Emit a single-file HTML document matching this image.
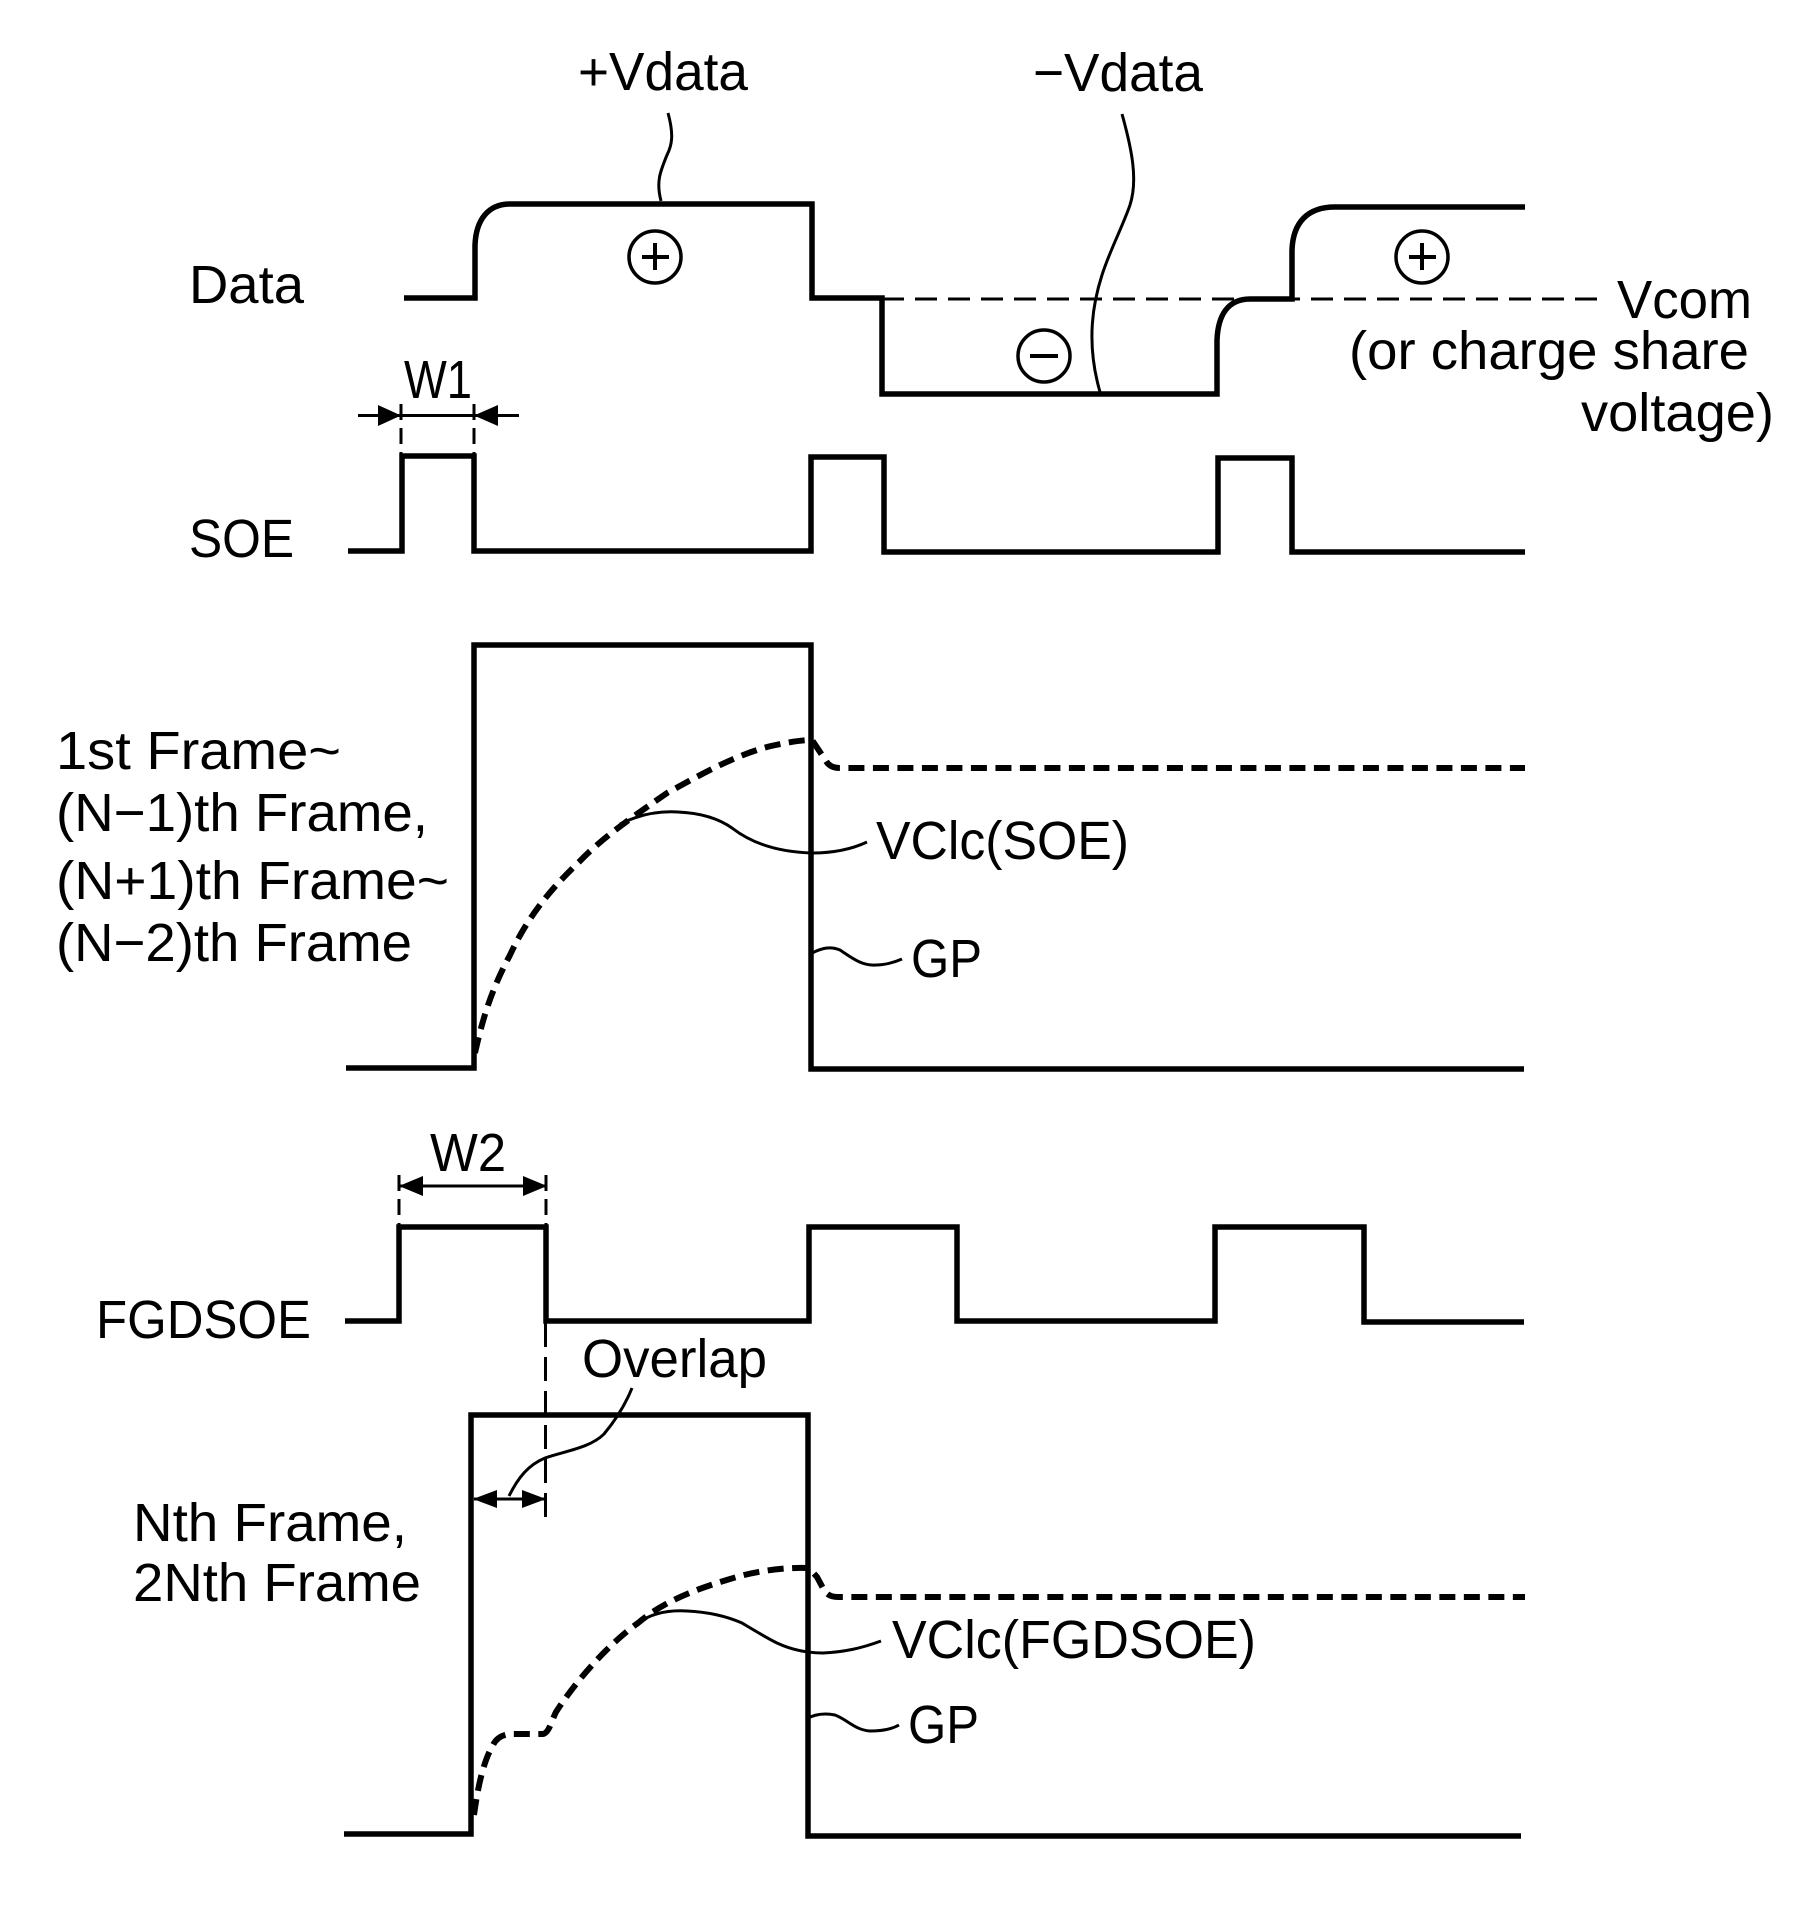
<!DOCTYPE html>
<html>
<head>
<meta charset="utf-8">
<style>
html,body{margin:0;padding:0;background:#fff;}
svg{display:block;}
text{font-family:"Liberation Sans",sans-serif;font-size:54px;fill:#000;}
.w{fill:none;stroke:#000;stroke-width:5.5;stroke-linejoin:miter;}
.l{fill:none;stroke:#000;stroke-width:3;}
.d{fill:none;stroke:#000;stroke-width:6;stroke-dasharray:16 8.500;}
.t{fill:none;stroke:#000;stroke-width:3;stroke-dasharray:22 11;}
.c{fill:none;stroke:#000;stroke-width:3.5;}
</style>
</head>
<body>
<svg width="1818" height="1922" viewBox="0 0 1818 1922" xmlns="http://www.w3.org/2000/svg">
<rect width="1818" height="1922" fill="#fff"/>

<!-- Data -->
<path class="w" d="M404 298 H475 V245 C476 220 488 204 510 204 H812 V298 H882 V394 H1217 V340 C1218 315 1228 299 1250 299 H1292 V250 C1293 222 1308 207 1335 207 H1525"/>
<path class="t" d="M882 299 H1599"/>
<path class="l" d="M668 113 C674 135 672 145 667 155 C660 172 656 182 661 201"/>
<path class="l" d="M1122 114 C1132 150 1138 180 1130 205 C1122 228 1110 250 1102 275 C1094 300 1085 340 1100 392"/>

<ellipse class="c" cx="655" cy="257" rx="26" ry="26"/>
<path class="w" style="stroke-width:4" d="M642 257 H669 M655 243 V270"/>
<ellipse class="c" cx="1044" cy="356" rx="26" ry="26"/>
<path class="w" style="stroke-width:4" d="M1030 356 H1058"/>
<ellipse class="c" cx="1422" cy="257" rx="26" ry="26"/>
<path class="w" style="stroke-width:4" d="M1409 257 H1436 M1422 243 V270"/>

<!-- SOE -->
<path class="w" d="M348 551 H402 V456 H474 V551 H811 V457 H884 V552 H1218 V458 H1292 V552 H1525"/>
<path class="l" d="M358 415.500 H519"/>
<polygon points="401,415.500 378,405 378,426"/>
<polygon points="474,415.500 498,405 498,426"/>
<path class="l" style="stroke-dasharray:16 8" d="M401 404 V455 M474 404 V455"/>

<!-- Block 1 -->
<path class="w" d="M346 1068 H474 V645 H811 V1069 H1524"/>
<path class="d" d="M475 1053 C484 1012 494 985 510 955 C530 912 555 885 580 861 C605 835 640 812 667 793 C700 775 735 755 771 746 C785 743 800 740 812 740 L826 761 Q830 768 840 768 H1525"/>
<path class="l" d="M620 824 C640 814 660 811 678 812 C700 813 718 818 732 828 C750 842 775 852 812 853 C830 853 850 850 867 842"/>
<path class="l" d="M812 953 C822 948 830 946 840 950 C852 958 862 966 876 965 C886 965 895 962 902 959"/>

<!-- FGDSOE -->
<path class="w" d="M345 1321 H399 V1227 H546 V1321 H809 V1227 H957 V1321 H1215 V1227 H1364 V1322 H1524"/>
<path class="l" d="M400 1186 H546"/>
<polygon points="399,1186 423,1176 423,1196"/>
<polygon points="547,1186 523,1176 523,1196"/>
<path class="l" style="stroke-dasharray:16 8" d="M399 1175 V1226 M546 1175 V1226"/>
<path class="l" style="stroke-dasharray:24 10" d="M545.500 1323 V1517"/>

<!-- Block 2 -->
<path class="w" d="M344 1834 H471 V1415 H808 V1836 H1521"/>
<path class="d" d="M474 1815 C478 1785 484 1760 493 1745 C497 1737 503 1735 510 1734 H543 C549 1733 551 1722 556 1712 C578 1678 610 1643 638 1623 C665 1600 700 1588 730 1579 C755 1571 785 1567 809 1568 L817 1577 L824 1590 Q828 1597 838 1597 H1525"/>
<path class="l" d="M632 1388 C624 1408 614 1422 604 1434 C590 1448 565 1451 545 1458 C528 1465 518 1478 509 1496"/>
<path class="l" d="M474 1499 H545"/>
<polygon points="473,1499 497,1490 497,1508"/>
<polygon points="546,1499 522,1490 522,1508"/>
<path class="l" d="M638 1623 C652 1613 670 1610 687 1611 C708 1612 726 1616 742 1623 C752 1629 765 1637 777 1643 C792 1650 808 1653 823 1653 C845 1652 862 1648 881 1641"/>
<path class="l" d="M806 1719 C815 1714 825 1713 835 1715 C848 1720 855 1730 870 1731 C882 1731 892 1729 899 1725"/>

<!-- Labels -->
<text x="578" y="90" textLength="170" lengthAdjust="spacingAndGlyphs">+Vdata</text>
<text x="1033" y="91" textLength="170" lengthAdjust="spacingAndGlyphs">−Vdata</text>
<text x="189" y="303" textLength="115" lengthAdjust="spacingAndGlyphs">Data</text>
<text x="1617" y="318" textLength="135" lengthAdjust="spacingAndGlyphs">Vcom</text>
<text x="1349" y="369" textLength="400" lengthAdjust="spacingAndGlyphs">(or charge share</text>
<text x="1581" y="431" textLength="193" lengthAdjust="spacingAndGlyphs">voltage)</text>
<text x="404" y="398" textLength="68" lengthAdjust="spacingAndGlyphs">W1</text>
<text x="189" y="557" textLength="105" lengthAdjust="spacingAndGlyphs">SOE</text>
<text x="56" y="769" textLength="285" lengthAdjust="spacingAndGlyphs">1st Frame~</text>
<text x="56" y="831" textLength="372" lengthAdjust="spacingAndGlyphs">(N−1)th Frame,</text>
<text x="56" y="899" textLength="393" lengthAdjust="spacingAndGlyphs">(N+1)th Frame~</text>
<text x="56" y="961" textLength="356" lengthAdjust="spacingAndGlyphs">(N−2)th Frame</text>
<text x="876" y="859" textLength="253" lengthAdjust="spacingAndGlyphs">VClc(SOE)</text>
<text x="911" y="977" textLength="71" lengthAdjust="spacingAndGlyphs">GP</text>
<text x="430" y="1171" textLength="76" lengthAdjust="spacingAndGlyphs">W2</text>
<text x="96" y="1338" textLength="215" lengthAdjust="spacingAndGlyphs">FGDSOE</text>
<text x="582" y="1377" textLength="185" lengthAdjust="spacingAndGlyphs">Overlap</text>
<text x="133" y="1541" textLength="274" lengthAdjust="spacingAndGlyphs">Nth Frame,</text>
<text x="133" y="1601" textLength="288" lengthAdjust="spacingAndGlyphs">2Nth Frame</text>
<text x="892" y="1658" textLength="364" lengthAdjust="spacingAndGlyphs">VClc(FGDSOE)</text>
<text x="908" y="1743" textLength="71" lengthAdjust="spacingAndGlyphs">GP</text>
</svg>
</body>
</html>
